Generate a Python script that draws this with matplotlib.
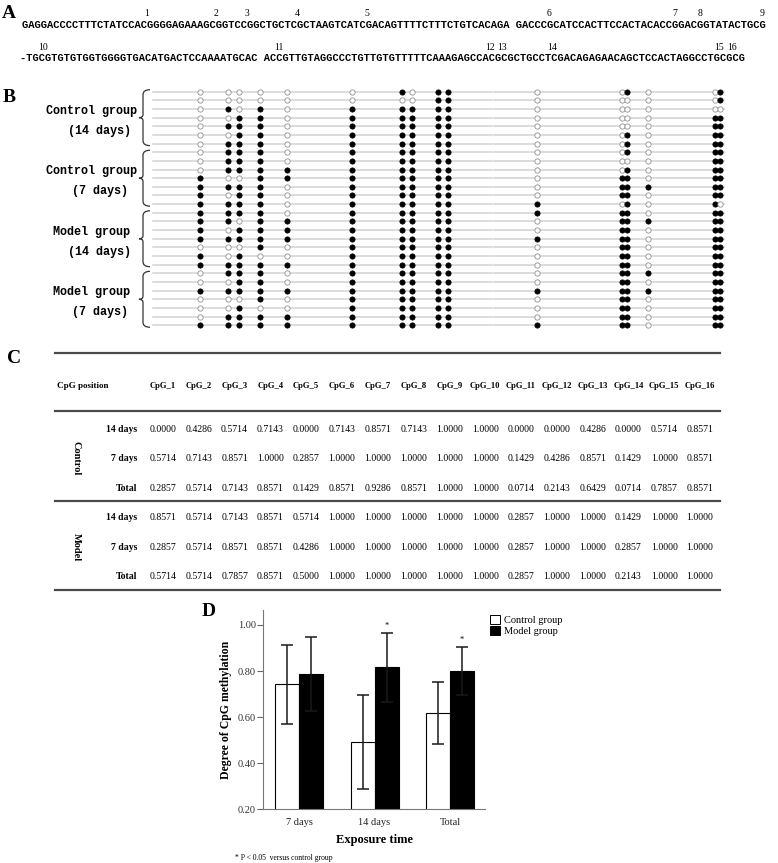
import numpy as np
import matplotlib
matplotlib.use("Agg")
import matplotlib.pyplot as plt
from matplotlib.path import Path
from matplotlib.patches import PathPatch, Patch

# ---- data ----
seq_line1 = "GAGGACCCCTTTCTATCCACGGGGAGAAAGCGGTCCGGCTGCTCGCTAAGTCATCGACAGTTTTCTTTCTGTCACAGA GACCCGCATCCACTTCCACTACACCGGACGGTATACTGCG"
seq_line2 = "-TGCGTGTGTGGTGGGGTGACATGACTCCAAAATGCAC ACCGTTGTAGGCCCTGTTGTGTTTTTCAAAGAGCCACGCGCTGCCTCGACAGAGAACAGCTCCACTAGGCCTGCGCG"

group_names = ["Control group", "Control group", "Model group", "Model group"]
group_days = ["(14 days)", "(7 days)", "(14 days)", "(7 days)"]

# methylation status of the 16 CpGs, 7 clones per group (1 = methylated)
meth = np.array([
    [0,0,0,0,0,0, 1,0,1,1, 0, 0,1, 0, 0,1],
    [0,0,0,0,0,0, 0,0,1,1, 0, 0,0, 0, 0,1],
    [0,1,0,1,0,1, 1,1,1,1, 0, 0,0, 0, 0,0],
    [0,0,1,1,0,1, 1,1,1,1, 0, 0,0, 0, 1,1],
    [0,1,1,1,0,1, 1,1,1,1, 0, 0,0, 0, 1,1],
    [0,0,1,1,0,1, 1,1,1,1, 0, 0,1, 0, 1,1],
    [0,1,1,1,0,1, 1,1,1,1, 0, 0,1, 0, 1,1],

    [0,1,1,1,0,1, 1,1,1,1, 0, 0,1, 0, 1,1],
    [0,1,1,1,0,1, 1,1,1,1, 0, 0,0, 0, 1,1],
    [0,1,1,1,1,1, 1,1,1,1, 0, 0,1, 0, 1,1],
    [1,0,0,1,1,1, 1,1,1,1, 0, 1,1, 0, 1,1],
    [1,1,1,1,0,1, 1,1,1,1, 0, 1,1, 1, 1,1],
    [1,0,1,1,0,1, 1,1,1,1, 0, 1,1, 0, 1,1],
    [1,1,1,1,0,1, 1,1,1,1, 1, 0,1, 0, 1,0],

    [1,1,1,1,0,1, 1,1,1,1, 1, 1,1, 0, 1,1],
    [1,1,0,1,1,1, 1,1,1,1, 0, 1,1, 1, 1,1],
    [1,0,1,1,1,1, 1,1,1,1, 0, 1,1, 0, 1,1],
    [1,1,1,1,1,1, 1,1,1,1, 1, 1,1, 0, 1,1],
    [0,0,0,1,0,1, 1,1,1,1, 0, 1,1, 0, 1,1],
    [1,0,1,0,0,1, 1,1,1,1, 0, 1,1, 0, 1,1],
    [1,1,1,1,1,1, 1,1,1,1, 0, 1,1, 0, 1,1],

    [0,1,1,1,0,1, 1,1,1,1, 0, 1,1, 1, 1,1],
    [0,0,1,1,0,1, 1,1,1,1, 0, 1,1, 0, 1,1],
    [1,1,1,1,1,1, 1,1,1,1, 1, 1,1, 1, 1,1],
    [0,0,0,1,0,1, 1,1,1,1, 0, 1,1, 0, 1,1],
    [0,0,1,0,0,1, 1,1,1,1, 0, 1,1, 0, 1,1],
    [0,1,1,1,1,1, 1,1,1,1, 0, 1,1, 0, 1,1],
    [1,1,1,1,1,1, 1,1,1,1, 1, 1,1, 0, 1,1],
])

cpg_cols = ["CpG_%d" % i for i in range(1, 17)]
row_groups = ["Control", "Model"]
row_days = ["14 days", "7 days", "Total"]
ctrl_14 = ["0.0000","0.4286","0.5714","0.7143","0.0000","0.7143","0.8571","0.7143","1.0000","1.0000","0.0000","0.0000","0.4286","0.0000","0.5714","0.8571"]
ctrl_7 = ["0.5714","0.7143","0.8571","1.0000","0.2857","1.0000","1.0000","1.0000","1.0000","1.0000","0.1429","0.4286","0.8571","0.1429","1.0000","0.8571"]
ctrl_tot = ["0.2857","0.5714","0.7143","0.8571","0.1429","0.8571","0.9286","0.8571","1.0000","1.0000","0.0714","0.2143","0.6429","0.0714","0.7857","0.8571"]
model_14 = ["0.8571","0.5714","0.7143","0.8571","0.5714","1.0000","1.0000","1.0000","1.0000","1.0000","0.2857","1.0000","1.0000","0.1429","1.0000","1.0000"]
model_7 = ["0.2857","0.5714","0.8571","0.8571","0.4286","1.0000","1.0000","1.0000","1.0000","1.0000","0.2857","1.0000","1.0000","0.2857","1.0000","1.0000"]
model_tot = ["0.5714","0.5714","0.7857","0.8571","0.5000","1.0000","1.0000","1.0000","1.0000","1.0000","0.2857","1.0000","1.0000","0.2143","1.0000","1.0000"]

times = ["7 days", "14 days", "Total"]
control_mean = [0.743, 0.491, 0.617]
control_err = [0.172, 0.204, 0.134]
model_mean = [0.788, 0.816, 0.801]
model_err = [0.160, 0.149, 0.103]
signif = [False, True, True]

# ---- layout (pixel coordinates of the 778x863 image) ----
W, H = 778, 863
cpg_x = [200, 228, 239, 260, 287, 352, 402, 412, 438, 448, 537, 622, 627, 648, 715, 720]
row_y0, row_dy = 91.7, 8.65

serif = "Liberation Serif"
mono = "Liberation Mono"

fig = plt.figure(figsize=(W / 100, H / 100), dpi=100)
ov = fig.add_axes([0, 0, 1, 1])
ov.set_xlim(0, W)
ov.set_ylim(H, 0)
ov.axis("off")

# ---- panel A ----
ov.text(2, 13, "A", fontsize=14, fontweight="bold", family=serif, va="center", ha="left")
for seq, x0, x1, y_seq, y_num, start in [(seq_line1, 22, 770, 25, 13, 1),
                                          (seq_line2, 20, 739, 58, 48, 10)]:
    cw = (x1 - x0) / len(seq)
    fs = cw / 0.6 * 72 / 100
    ov.text(x0, y_seq, seq, fontsize=fs, family=mono, fontweight="bold",
            va="center", ha="left")
    idx = [i for i in range(len(seq) - 1) if seq[i:i + 2] == "CG"]
    for k, i in enumerate(idx):
        ov.text(x0 + (i + 0.8) * cw, y_num, str(start + k), fontsize=7,
                family=serif, ha="center", va="center")

# ---- panel B ----
ov.text(3, 97, "B", fontsize=14, fontweight="bold", family=serif, va="center", ha="left")
n_rows = meth.shape[0]
ys = row_y0 + row_dy * np.arange(n_rows)
for r in range(n_rows):
    ov.plot([153, 492], [ys[r], ys[r]], color="#d2d2d2", lw=1.1, zorder=1)
    ov.plot([494, 724], [ys[r], ys[r]], color="#d2d2d2", lw=1.1, zorder=1)
    for c in range(16):
        if meth[r, c]:
            ov.plot(cpg_x[c], ys[r], "o", ms=3.8, mfc="black", mec="black", mew=0.5, zorder=3)
        else:
            ov.plot(cpg_x[c], ys[r], "o", ms=3.8, mfc="white", mec="#909090", mew=0.6, zorder=3)


def brace(yt, yb, x_end=150, x_bar=143, x_tip=139):
    ym = (yt + yb) / 2
    verts = [(x_end, yt), (x_bar, yt), (x_bar, yt + 5), (x_bar, ym - 3),
             (x_bar, ym), (x_tip, ym), (x_bar, ym), (x_bar, ym + 3),
             (x_bar, yb - 5), (x_bar, yb), (x_end, yb)]
    codes = [Path.MOVETO, Path.CURVE3, Path.CURVE3, Path.LINETO,
             Path.CURVE3, Path.CURVE3, Path.CURVE3, Path.CURVE3,
             Path.LINETO, Path.CURVE3, Path.CURVE3]
    ov.add_patch(PathPatch(Path(verts, codes), fc="none", ec="#333333", lw=0.9))


for g in range(4):
    yt = ys[7 * g] - 2
    yb = ys[7 * g + 6] + 2
    brace(yt, yb)
    yc = ys[7 * g + 3]
    ov.text(92, yc - 7, group_names[g], fontsize=8.5, family=mono, fontweight="bold",
            ha="center", va="center")
    ov.text(100, yc + 13, group_days[g], fontsize=8.5, family=mono, fontweight="bold",
            ha="center", va="center")

# ---- panel C (table) ----
ov.text(7, 358, "C", fontsize=14, fontweight="bold", family=serif, va="center", ha="left")
rule_x = [55, 720]
for yr in [353, 411, 501, 589.5]:
    ov.plot(rule_x, [yr, yr], color="#4a4a4a", lw=1.6)
col_x = np.linspace(163, 700, 16)
ov.text(57, 386, "CpG position", fontsize=6.5, fontweight="bold", family=serif, va="center")
for c in range(16):
    ov.text(col_x[c], 386, cpg_cols[c], fontsize=6.2, fontweight="bold", family=serif,
            ha="center", va="center")
table_rows = [ctrl_14, ctrl_7, ctrl_tot, model_14, model_7, model_tot]
table_y = [429.5, 458.5, 488, 517.5, 547, 576.5]
for r, vals in enumerate(table_rows):
    ov.text(137, table_y[r], row_days[r % 3], fontsize=7, fontweight="bold", family=serif,
            ha="right", va="center")
    for c in range(16):
        ov.text(col_x[c], table_y[r], vals[c], fontsize=7, family=serif,
                ha="center", va="center")
ov.text(76, table_y[1], row_groups[0], fontsize=7.5, fontweight="bold", family=serif,
        rotation=270, ha="center", va="center")
ov.text(76, table_y[4], row_groups[1], fontsize=7.5, fontweight="bold", family=serif,
        rotation=270, ha="center", va="center")

# ---- panel D ----
ov.text(202, 611, "D", fontsize=14, fontweight="bold", family=serif, va="center", ha="left")
ax = fig.add_axes([263 / W, 1 - 809.3 / H, (485 - 263) / W, (809.3 - 610) / H])
x = np.arange(len(times))
bw = 0.318
ekw = dict(ecolor="#1a1a1a", elinewidth=1.1, capsize=4.3, capthick=1.1)
ax.bar(x - bw / 2, control_mean, bw, color="white", edgecolor="black", lw=0.8,
       yerr=control_err, error_kw=ekw, label="Control group", zorder=2)
ax.bar(x + bw / 2, model_mean, bw, color="black", edgecolor="black", lw=0.8,
       yerr=model_err, error_kw=ekw, label="Model group", zorder=2)
for i in range(len(times)):
    if signif[i]:
        ax.text(x[i] + bw / 2, model_mean[i] + model_err[i] + 0.012, "*", ha="center",
                va="bottom", fontsize=6, family=serif)
ax.set_xlim(-0.477, 2.463)
ax.set_ylim(0.2, 1.065)
ax.set_yticks([0.2, 0.4, 0.6, 0.8, 1.0])
ax.set_yticklabels(["0.20", "0.40", "0.60", "0.80", "1.00"], family=serif, fontsize=7.5, color="#333333")
ax.set_xticks(x)
ax.set_xticklabels(times, family=serif, fontsize=7.5, color="#222222")
ax.tick_params(axis="y", length=4, width=0.8, color="#666666", pad=1)
ax.tick_params(axis="x", length=0, pad=6)
for s in ["top", "right"]:
    ax.spines[s].set_visible(False)
for s in ["left", "bottom"]:
    ax.spines[s].set_color("#777777")
    ax.spines[s].set_linewidth(0.8)
ax.set_ylabel("Degree of CpG methylation", family=serif, fontsize=8.5, fontweight="bold", labelpad=4)
ax.set_xlabel("Exposure time", family=serif, fontsize=9, fontweight="bold", labelpad=5)

handles = [Patch(fc="white", ec="black", lw=0.7), Patch(fc="black", ec="black", lw=0.7)]
fig.legend(handles, ["Control group", "Model group"], loc="upper left",
           bbox_to_anchor=(490 / W, 1 - 615 / H), frameon=False, prop=dict(family=serif, size=7.5),
           handlelength=1.0, handleheight=1.0, handletextpad=0.3, labelspacing=0.05, borderpad=0,
           borderaxespad=0)
ov.text(235, 857.5, "* P < 0.05  versus control group", fontsize=5.5, family=serif,
        ha="left", va="center")

fig.savefig("out.png", dpi=100)
